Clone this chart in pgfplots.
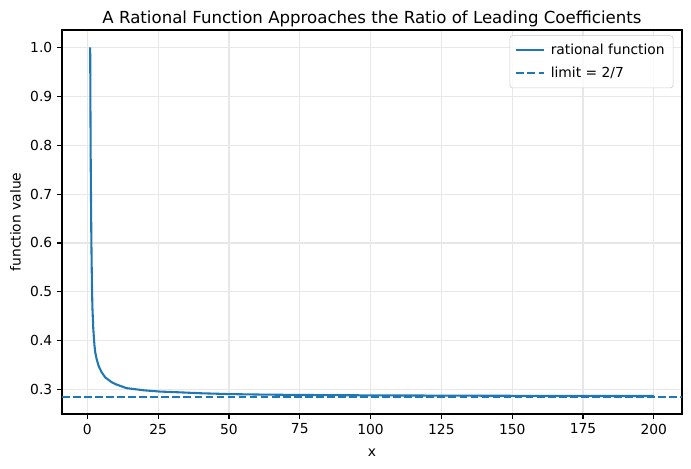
\documentclass[border=0pt]{standalone}
\usepackage{fontspec}
\setmainfont{DejaVu Sans}
\usepackage{pgfplots}
\usepackage{pgfplotstable}
\pgfplotsset{compat=1.18}
\definecolor{mplblue}{HTML}{1F77B4}
\definecolor{gridgray}{HTML}{E7E7E7}
\definecolor{legendedge}{HTML}{CCCCCC}

% sampled values of the rational function
\pgfplotstableread{
x      y
1.0    1.000
1.1    0.866
1.2    0.756
1.3    0.686
1.4    0.616
1.5    0.566
1.65   0.506
1.8    0.466
2.1    0.424
2.5    0.391
2.8    0.376
3.3    0.362
4.0    0.348
5.0    0.336
6.3    0.325
8.6    0.315
10     0.311
13.8   0.303
20     0.2985
25.5   0.296
32.5   0.2944
40     0.2925
50     0.2908
60     0.2899
75     0.2890
100    0.2882
125    0.2877
150    0.2873
175    0.2870
200    0.2868
}\ratfun

\begin{document}
\fontsize{10}{12}\selectfont
\begin{tikzpicture}
\begin{axis}[
  scale only axis,
  width=446.4bp, height=276.5bp,
  xmin=-8.95, xmax=209.95,
  ymin=0.25, ymax=1.0357,
  xtick={0,25,50,75,100,125,150,175,200},
  ytick={0.3,0.4,0.5,0.6,0.7,0.8,0.9,1.0},
  yticklabel style={/pgf/number format/.cd, fixed, fixed zerofill, precision=1},
  /pgf/number format/assume math mode=true,
  ticklabel style={font=\fontsize{10}{12}\selectfont},
  tick align=outside,
  tick pos=left,
  major tick length=3.5bp,
  every tick/.style={black, line width=0.8bp},
  axis line style={line width=0.8bp},
  grid=major,
  grid style={gridgray, line width=0.8bp},
  title={A Rational Function Approaches the Ratio of Leading Coefficients},
  title style={font=\fontsize{12}{14}\selectfont, yshift=-7.5bp},
  xlabel={x},
  ylabel={function value},
  label style={font=\fontsize{10}{12}\selectfont},
  xlabel style={yshift=-4bp},
  legend cell align=left,
  legend style={
    font=\fontsize{10}{12}\selectfont,
    draw=legendedge, rounded corners=2bp, fill=white, fill opacity=0.8, text opacity=1,
    at={(0.986,0.986)}, anchor=north east,
    inner xsep=4bp, inner ysep=4bp, row sep=3.5bp,
    /tikz/every odd column/.style={column sep=2bp},
  },
  legend image code/.code={
    \draw[#1] (0bp,0bp) -- (20bp,0bp);
  },
]
\addplot[mplblue, line width=1.5bp] table[x=x, y=y] {\ratfun};
\addlegendentry{rational function}
\addplot[mplblue, line width=1.5bp, dash pattern=on 5.55bp off 2.4bp]
  coordinates {(-8.95,0.285714) (209.95,0.285714)};
\addlegendentry{limit = 2/7}
\end{axis}
\pgfresetboundingbox
\path ([shift={(-44.64bp,-38.88bp)}]current axis.south west)
  rectangle ([shift={(6.48bp,21.6bp)}]current axis.north east);
\end{tikzpicture}
\end{document}
